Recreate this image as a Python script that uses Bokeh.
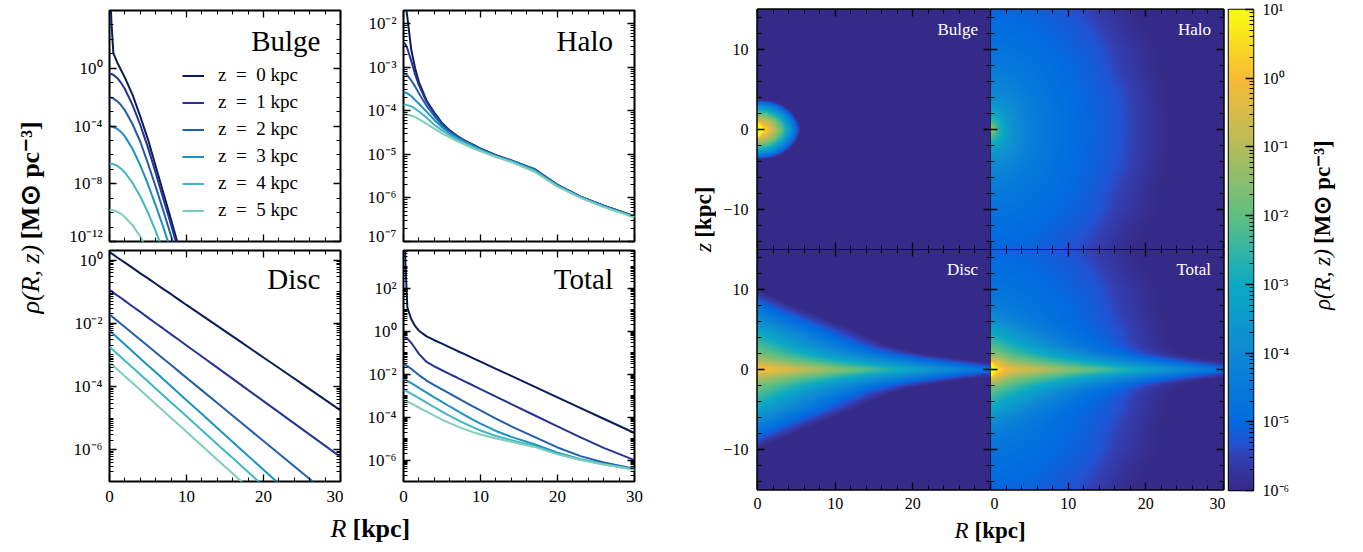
import numpy as np
from bokeh.plotting import figure
from bokeh.layouts import row, column
from bokeh.models import (Range1d, FixedTicker, LinearAxis, LogAxis, Label, Legend,
                          LegendItem, LinearColorMapper, CustomJSTickFormatter)
from bokeh.embed import file_html
from bokeh.resources import INLINE

FONT = "Liberation Serif"

# ------------------------------------------------------------------ data
R_kpc = [0, 0.25, 0.5, 1, 1.5, 2, 3, 4, 5, 6, 7, 8, 9, 10, 12, 14, 17, 20, 23, 26, 30]
z_line_kpc = [0, 1, 2, 3, 4, 5]
z_extra_kpc = [7.5, 10, 12.5, 15]
line_labels = ["z\u2002=\u20020 kpc", "z\u2002=\u20021 kpc", "z\u2002=\u20022 kpc",
               "z\u2002=\u20023 kpc", "z\u2002=\u20024 kpc", "z\u2002=\u20025 kpc"]
line_colors = ["#081d58", "#253494", "#225ea8", "#1d91c0", "#41b6c4", "#7fcdbb"]
panel_names = ["Bulge", "Halo", "Disc", "Total"]

# log10 rho(R, z) [Msun pc^-3] -- bulge
bulge_z0 = [6.5, 3.2, 1.05, 0.4, -0.12, -0.65, -1.84, -3.34, -4.94, -6.79, -8.64, -10.5, -12.4, -14.4, -18.7, -23.2, -30.0, -37.0, -44.0, -51.0, -60.0]
bulge_z1 = [-0.39, -0.40, -0.46, -0.67, -1.01, -1.44, -2.55, -3.93, -5.50, -7.25, -9.05, -10.86, -12.74, -14.7, -18.9, -23.4, -30.2, -37.2, -44.2, -51.2, -60.2]
bulge_z2 = [-2.03, -2.05, -2.10, -2.28, -2.55, -2.91, -3.88, -5.09, -6.61, -8.21, -9.89, -11.62, -13.46, -15.4, -19.6, -24.0, -30.8, -37.8, -44.8, -51.8, -61.0]
bulge_z3 = [-4.03, -4.04, -4.07, -4.20, -4.41, -4.72, -5.59, -6.73, -8.05, -9.50, -11.03, -12.68, -14.46, -16.4, -20.5, -25.0, -31.6, -38.6, -45.6, -52.6, -62.0]
bulge_z4 = [-6.61, -6.62, -6.64, -6.75, -6.96, -7.22, -7.94, -8.88, -10.0, -11.28, -12.7, -14.28, -16.0, -17.8, -21.7, -26.0, -32.8, -39.8, -46.8, -53.8, -63.0]
bulge_z5 = [-9.81, -9.82, -9.84, -9.93, -10.08, -10.30, -10.88, -11.66, -12.64, -13.82, -15.1, -16.6, -18.2, -19.9, -23.5, -27.7, -34.3, -41.3, -48.3, -55.3, -64.0]
bulge_z7p5 = [-17.6, -17.6, -17.6, -17.7, -17.8, -17.9, -18.3, -18.8, -19.5, -20.3, -21.2, -22.2, -23.3, -24.5, -27.2, -30.2, -35.0, -40.5, -46.5, -52.8, -61.6]
bulge_z10 = [-25.0, -25.0, -25.0, -25.1, -25.1, -25.2, -25.5, -25.9, -26.4, -27.0, -27.7, -28.5, -29.4, -30.4, -32.6, -35.2, -39.5, -44.5, -50.0, -56.0, -64.5]
bulge_z12p5 = [-32.0, -32.0, -32.0, -32.1, -32.1, -32.2, -32.4, -32.7, -33.1, -33.6, -34.2, -34.8, -35.6, -36.4, -38.3, -40.5, -44.3, -48.8, -53.9, -59.5, -67.6]
bulge_z15 = [-40.0, -40.0, -40.0, -40.0, -40.1, -40.1, -40.3, -40.6, -40.9, -41.3, -41.8, -42.3, -42.9, -43.6, -45.2, -47.1, -50.5, -54.5, -59.2, -64.4, -72.0]

# halo
halo_z0 = [-1.0, -1.5, -1.85, -2.59, -3.02, -3.34, -3.77, -4.04, -4.28, -4.45, -4.58, -4.69, -4.78, -4.87, -5.02, -5.14, -5.34, -5.70, -5.97, -6.18, -6.42]
halo_z1 = [-2.44, -2.47, -2.57, -2.85, -3.16, -3.41, -3.80, -4.06, -4.29, -4.46, -4.59, -4.69, -4.78, -4.87, -5.02, -5.14, -5.34, -5.70, -5.97, -6.18, -6.42]
halo_z2 = [-3.15, -3.16, -3.19, -3.30, -3.44, -3.60, -3.89, -4.12, -4.33, -4.48, -4.60, -4.71, -4.79, -4.88, -5.03, -5.15, -5.35, -5.71, -5.98, -6.19, -6.43]
halo_z3 = [-3.57, -3.58, -3.60, -3.66, -3.75, -3.84, -4.02, -4.21, -4.38, -4.52, -4.63, -4.72, -4.81, -4.89, -5.04, -5.15, -5.36, -5.71, -5.98, -6.19, -6.43]
halo_z4 = [-3.86, -3.86, -3.87, -3.90, -3.95, -4.01, -4.16, -4.32, -4.45, -4.56, -4.66, -4.75, -4.83, -4.91, -5.05, -5.16, -5.38, -5.73, -5.99, -6.20, -6.44]
halo_z5 = [-4.08, -4.08, -4.09, -4.11, -4.14, -4.19, -4.30, -4.41, -4.52, -4.61, -4.70, -4.78, -4.86, -4.93, -5.06, -5.18, -5.40, -5.74, -6.00, -6.21, -6.45]
halo_z7p5 = [-4.48, -4.48, -4.49, -4.49, -4.51, -4.52, -4.57, -4.63, -4.69, -4.75, -4.81, -4.88, -4.94, -5.00, -5.11, -5.23, -5.53, -5.83, -6.05, -6.22, -6.46]
halo_z10 = [-4.72, -4.72, -4.72, -4.73, -4.73, -4.74, -4.77, -4.80, -4.85, -4.89, -4.94, -4.99, -5.04, -5.08, -5.19, -5.30, -5.62, -5.85, -6.07, -6.27, -6.49]
halo_z12p5 = [-4.90, -4.90, -4.90, -4.90, -4.91, -4.92, -4.93, -4.96, -4.99, -5.02, -5.06, -5.10, -5.14, -5.19, -5.29, -5.44, -5.76, -5.98, -6.15, -6.32, -6.53]
halo_z15 = [-5.05, -5.05, -5.05, -5.05, -5.05, -5.06, -5.07, -5.09, -5.11, -5.13, -5.17, -5.20, -5.24, -5.28, -5.42, -5.63, -5.87, -6.05, -6.22, -6.37, -6.58]

# disc
disc_z0 = [0.25, 0.21, 0.17, 0.08, 0.0, -0.08, -0.25, -0.42, -0.58, -0.75, -0.92, -1.08, -1.25, -1.42, -1.75, -2.08, -2.58, -3.08, -3.58, -4.08, -4.75]
disc_z1 = [-0.94, -0.98, -1.03, -1.12, -1.20, -1.29, -1.47, -1.64, -1.82, -2.00, -2.17, -2.35, -2.52, -2.70, -3.05, -3.40, -3.93, -4.46, -4.99, -5.52, -6.22]
disc_z2 = [-1.72, -1.77, -1.82, -1.92, -2.02, -2.12, -2.32, -2.52, -2.72, -2.92, -3.12, -3.32, -3.52, -3.72, -4.12, -4.52, -5.12, -5.72, -6.32, -6.92, -7.72]
disc_z3 = [-2.23, -2.29, -2.34, -2.45, -2.56, -2.67, -2.89, -3.11, -3.33, -3.55, -3.77, -3.99, -4.21, -4.43, -4.87, -5.31, -5.97, -6.63, -7.29, -7.95, -8.83]
disc_z4 = [-2.74, -2.80, -2.85, -2.96, -3.07, -3.18, -3.40, -3.62, -3.84, -4.06, -4.28, -4.50, -4.72, -4.94, -5.38, -5.82, -6.48, -7.14, -7.80, -8.46, -9.34]
disc_z5 = [-3.23, -3.29, -3.34, -3.45, -3.56, -3.67, -3.89, -4.11, -4.33, -4.55, -4.77, -4.99, -5.21, -5.43, -5.87, -6.31, -6.97, -7.63, -8.29, -8.95, -9.83]
disc_z7p5 = [-4.60, -4.66, -4.72, -4.83, -4.95, -5.06, -5.29, -5.52, -5.75, -5.98, -6.21, -6.44, -6.67, -6.90, -7.36, -7.82, -8.51, -9.20, -9.89, -10.58, -11.50]
disc_z10 = [-6.00, -6.06, -6.12, -6.24, -6.36, -6.48, -6.72, -6.96, -7.20, -7.44, -7.68, -7.92, -8.16, -8.40, -8.88, -9.36, -10.08, -10.80, -11.52, -12.24, -13.20]
disc_z12p5 = [-7.40, -7.46, -7.53, -7.65, -7.78, -7.90, -8.15, -8.40, -8.65, -8.90, -9.15, -9.40, -9.65, -9.90, -10.40, -10.90, -11.65, -12.40, -13.15, -13.90, -14.90]
disc_z15 = [-8.80, -8.87, -8.93, -9.06, -9.19, -9.32, -9.58, -9.84, -10.10, -10.36, -10.62, -10.88, -11.14, -11.40, -11.92, -12.44, -13.22, -14.00, -14.78, -15.56, -16.60]

bulge_rows = [bulge_z0, bulge_z1, bulge_z2, bulge_z3, bulge_z4, bulge_z5,
              bulge_z7p5, bulge_z10, bulge_z12p5, bulge_z15]
halo_rows = [halo_z0, halo_z1, halo_z2, halo_z3, halo_z4, halo_z5,
             halo_z7p5, halo_z10, halo_z12p5, halo_z15]
disc_rows = [disc_z0, disc_z1, disc_z2, disc_z3, disc_z4, disc_z5,
             disc_z7p5, disc_z10, disc_z12p5, disc_z15]
# total = bulge + halo + disc
total_rows = [list(np.log10(10.0 ** np.array(b) + 10.0 ** np.array(h) + 10.0 ** np.array(d)))
              for b, h, d in zip(bulge_rows, halo_rows, disc_rows)]

# ------------------------------------------------------------------ colours (parula-like)
stops = [0.0, 0.07, 0.095, 1 / 7, 2 / 7, 3 / 7, 4 / 7, 5 / 7, 6 / 7, 1.0]
stop_rgb = [(53, 42, 135), (52, 64, 179), (33, 82, 211), (2, 107, 224), (14, 137, 212),
            (11, 170, 196), (95, 191, 130), (180, 188, 90), (248, 186, 55), (249, 251, 14)]
_t = np.linspace(0, 1, 256)
_ch = [np.interp(_t, stops, [c[i] for c in stop_rgb]) for i in range(3)]
PAL = ["#%02x%02x%02x" % (int(round(a)), int(round(b)), int(round(c))) for a, b, c in zip(*_ch)]

SUP_JS = ("const m = {'-': '\u207b', '0': '\u2070', '1': '\u00b9', '2': '\u00b2', '3': '\u00b3', "
          "'4': '\u2074', '5': '\u2075', '6': '\u2076', '7': '\u2077', '8': '\u2078', '9': '\u2079'};\n"
          "function sup(e) { return String(e).split('').map(c => m[c]).join(''); }\n")


def log_fmt():
    return CustomJSTickFormatter(code=SUP_JS + "return '10' + sup(Math.round(Math.log10(tick)));")


def blank_fmt():
    return CustomJSTickFormatter(code="return '';")


def style_axis(ax, labels, size="17px", standoff=7, tin=7, mtin=4):
    ax.major_tick_in = tin
    ax.major_tick_out = 0
    ax.minor_tick_in = mtin
    ax.minor_tick_out = 0
    ax.major_tick_line_width = 1.3
    ax.minor_tick_line_width = 1.0
    ax.major_tick_line_color = "black"
    ax.minor_tick_line_color = "black"
    ax.axis_line_color = None
    ax.major_label_text_font = FONT
    ax.major_label_text_color = "black"
    if labels:
        ax.major_label_text_font_size = size
        ax.major_label_standoff = standoff
    else:
        ax.major_label_text_font_size = "0px"
        ax.major_label_standoff = 0
        ax.formatter = blank_fmt()


X_MAJ = [0, 10, 20, 30]
X_MIN = [2, 4, 6, 8, 12, 14, 16, 18, 22, 24, 26, 28]


def make_line_fig(w, h, bl, br, bt, bb, yr, ymaj, ymin, show_x):
    p = figure(width=w, height=h, x_range=Range1d(0, 30), y_range=Range1d(*yr),
               y_axis_type="log", output_backend="svg", toolbar_location=None,
               min_border_left=bl, min_border_right=br, min_border_top=bt, min_border_bottom=bb)
    p.grid.visible = False
    p.outline_line_color = "black"
    p.outline_line_width = 2
    p.background_fill_color = "white"
    p.border_fill_color = "white"
    xa = p.xaxis[0]
    ya = p.yaxis[0]
    xa.ticker = FixedTicker(ticks=X_MAJ, minor_ticks=X_MIN)
    ya.ticker = FixedTicker(ticks=ymaj, minor_ticks=ymin)
    ya.formatter = log_fmt()
    style_axis(ya, True, "17px", 7)
    if show_x:
        style_axis(xa, True, "17px", 9)
    else:
        style_axis(xa, False)
    top = LinearAxis(ticker=FixedTicker(ticks=X_MAJ, minor_ticks=X_MIN))
    style_axis(top, False)
    p.add_layout(top, "above")
    right = LogAxis(ticker=FixedTicker(ticks=ymaj, minor_ticks=ymin))
    style_axis(right, False)
    p.add_layout(right, "right")
    return p


def panel_title(p, x, y, text):
    p.add_layout(Label(x=x, y=y, text=text, text_align="right", text_baseline="middle",
                       text_color="black", text_font=FONT, text_font_size="29px"))


def log_minor(lo, hi, subs=True):
    out = []
    for n in range(lo, hi + 1):
        out.append(10.0 ** n)
        if subs:
            out += [k * 10.0 ** n for k in range(2, 10)]
    return out


R_arr = np.array(R_kpc, float)

# ---- Bulge
pB = make_line_fig(288, 245, 54, 3, 10, 4, (1e-12, 1e4), [1e-12, 1e-8, 1e-4, 1.0],
                   log_minor(-12, 4, False), False)
renB = []
for i in range(6):
    renB.append(pB.line(R_arr, 10.0 ** np.array(bulge_rows[i]), line_color=line_colors[i], line_width=2))
leg = Legend(items=[LegendItem(label=line_labels[i], renderers=[renB[i]]) for i in range(6)],
             location=(73, 20), padding=0, margin=0, spacing=5, glyph_width=22, glyph_height=21,
             label_height=21, label_standoff=14, label_text_font=FONT, label_text_font_size="19px",
             label_text_color="black", border_line_alpha=0, background_fill_alpha=0)
pB.add_layout(leg)
panel_title(pB, 27.4, 10 ** 1.92, panel_names[0])

# ---- Halo
pH = make_line_fig(320, 245, 60, 29, 10, 4, (1e-7, 2e-2), [10.0 ** k for k in range(-7, -1)],
                   log_minor(-7, -2), False)
for i in range(6):
    pH.line(R_arr, 10.0 ** np.array(halo_rows[i]), line_color=line_colors[i], line_width=2)
panel_title(pH, 27.2, 10 ** -2.39, panel_names[1])

# ---- Disc
pD = make_line_fig(288, 267, 54, 3, 5, 31, (1e-7, 2.0), [1e-6, 1e-4, 1e-2, 1.0],
                   log_minor(-7, 0), True)
for i in range(6):
    pD.line(R_arr, 10.0 ** np.array(disc_rows[i]), line_color=line_colors[i], line_width=2)
panel_title(pD, 27.4, 10 ** -0.585, panel_names[2])

# ---- Total
pT = make_line_fig(320, 267, 60, 29, 5, 31, (1e-7, 10 ** 3.76), [1e-6, 1e-4, 1e-2, 1.0, 1e2],
                   log_minor(-7, 3), True)
for i in range(6):
    pT.line(R_arr, 10.0 ** np.array(total_rows[i]), line_color=line_colors[i], line_width=2)
panel_title(pT, 27.2, 10 ** 2.455, panel_names[3])


# ------------------------------------------------------------------ label figures
def label_fig(w, h):
    p = figure(width=w, height=h, x_range=Range1d(0, w), y_range=Range1d(0, h),
               x_axis_type=None, y_axis_type=None, min_border=0,
               output_backend="svg", toolbar_location=None)
    p.outline_line_color = None
    p.background_fill_color = "white"
    p.border_fill_color = "white"
    return p


def txt(p, x, y, text, align, style, size, angle=0.0):
    p.add_layout(Label(x=x, y=y, text=text, angle=angle, text_align=align, text_baseline="middle",
                       text_color="black", text_font=FONT, text_font_style=style,
                       text_font_size=size))


lab1 = label_fig(55, 552)
txt(lab1, 30, 282, "\u03c1(R, z)", "right", "italic", "26px", np.pi / 2)
txt(lab1, 30, 288, "[M\u2299 pc\u207b\u00b3]", "left", "bold", "26px", np.pi / 2)

xlab1 = label_fig(608, 40)
txt(xlab1, 291, 24, "R", "right", "italic", "26px")
txt(xlab1, 297, 24, "[kpc]", "left", "bold", "26px")

lab2 = label_fig(53, 552)
txt(lab2, 40, 284, "z", "right", "italic", "23px", np.pi / 2)
txt(lab2, 40, 290, "[kpc]", "left", "bold", "23px", np.pi / 2)

xlab2 = label_fig(509, 34)
txt(xlab2, 252, 22, "R", "right", "italic", "23px")
txt(xlab2, 258, 22, "[kpc]", "left", "bold", "23px")

lab3 = label_fig(58, 552)
txt(lab3, 17, 277, "\u03c1(R, z)", "right", "italic", "23px", np.pi / 2)
txt(lab3, 17, 283, "[M\u2299 pc\u207b\u00b3]", "left", "bold", "23px", np.pi / 2)

# ------------------------------------------------------------------ heat maps
z_tab = np.array(z_line_kpc + z_extra_kpc, float)
Rf = np.linspace(0, 30, 301)
zf = np.linspace(-15, 15, 301)


def field(rows):
    tab = np.array(rows, float)
    tmp = np.array([np.interp(Rf, R_arr, r) for r in tab])
    az = np.abs(zf)
    out = np.empty((zf.size, Rf.size))
    for j in range(Rf.size):
        out[:, j] = np.interp(az, z_tab, tmp[:, j])
    return out


fB = field(bulge_rows)
fH = field(halo_rows)
fD = field(disc_rows)
fT = np.log10(10.0 ** fB + 10.0 ** fH + 10.0 ** fD)

Y_MAJ = [-10, 0, 10]
Y_MIN = [-14, -12, -8, -6, -4, -2, 2, 4, 6, 8, 12, 14]
mapper = LinearColorMapper(palette=PAL, low=-6, high=1)


def make_heat(w, h, bl, br, bt, bb, img, name, xcode, ylabels):
    p = figure(width=w, height=h, x_range=Range1d(0, 30), y_range=Range1d(-15, 15),
               output_backend="svg", toolbar_location=None,
               min_border_left=bl, min_border_right=br, min_border_top=bt, min_border_bottom=bb)
    p.grid.visible = False
    p.outline_line_color = "black"
    p.outline_line_width = 2.5
    p.border_fill_color = "white"
    p.image(image=[img], x=0, y=-15, dw=30, dh=30, color_mapper=mapper)
    xa = p.xaxis[0]
    ya = p.yaxis[0]
    xa.ticker = FixedTicker(ticks=X_MAJ, minor_ticks=X_MIN)
    ya.ticker = FixedTicker(ticks=Y_MAJ, minor_ticks=Y_MIN)
    if xcode is not None:
        style_axis(xa, True, "16px", 8, 7, 4)
        xa.formatter = CustomJSTickFormatter(code=xcode)
    else:
        style_axis(xa, False, tin=7, mtin=4)
    if ylabels:
        style_axis(ya, True, "16px", 9, 7, 4)
        ya.formatter = CustomJSTickFormatter(
            code="return tick < 0 ? '\u2212' + Math.abs(tick) : String(tick);")
    else:
        style_axis(ya, False, tin=7, mtin=4)
    top = LinearAxis(ticker=FixedTicker(ticks=X_MAJ, minor_ticks=X_MIN))
    style_axis(top, False)
    p.add_layout(top, "above")
    right = LinearAxis(ticker=FixedTicker(ticks=Y_MAJ, minor_ticks=Y_MIN))
    style_axis(right, False)
    p.add_layout(right, "right")
    p.add_layout(Label(x=28.4, y=12.45, text=name, text_align="right", text_baseline="middle",
                       text_color="white", text_font=FONT, text_font_size="17px"))
    return p


hB = make_heat(274, 249, 41, 0, 9, 0, fB, panel_names[0], None, True)
hH = make_heat(235, 249, 0, 2, 9, 0, fH, panel_names[1], None, False)
hD = make_heat(274, 269, 41, 0, 0, 29, fD, panel_names[2],
               "return tick == 30 ? '' : String(tick);", True)
hT = make_heat(235, 269, 0, 2, 0, 29, fT, panel_names[3], "return String(tick);", False)

# ------------------------------------------------------------------ colour bar
cb = figure(width=80, height=552, x_range=Range1d(0, 1), y_range=Range1d(-6, 1),
            x_axis_type=None, y_axis_location="right", output_backend="svg",
            toolbar_location=None, min_border_left=3, min_border_right=52,
            min_border_top=9, min_border_bottom=62)
cb.grid.visible = False
cb.outline_line_color = "black"
cb.outline_line_width = 1.5
cb.border_fill_color = "white"
cb.image(image=[np.linspace(-6, 1, 600).reshape(-1, 1)], x=0, y=-6, dw=1, dh=7, color_mapper=mapper)
cya = cb.yaxis[0]
cya.ticker = FixedTicker(ticks=list(range(-6, 2)),
                         minor_ticks=[n + np.log10(k) for n in range(-6, 1) for k in range(2, 10)])
style_axis(cya, True, "16px", 9, 8, 4)
cya.formatter = CustomJSTickFormatter(code=SUP_JS + "return '10' + sup(Math.round(tick));")

# ------------------------------------------------------------------ layout
left_block = column(row(pB, pH, spacing=0), row(pD, pT, spacing=0), xlab1, spacing=0)
right_block = column(row(hB, hH, spacing=0), row(hD, hT, spacing=0), xlab2, spacing=0)
layout = row(lab1, left_block, lab2, right_block, cb, lab3, spacing=0)

open("out.html", "w").write(file_html(layout, INLINE))
